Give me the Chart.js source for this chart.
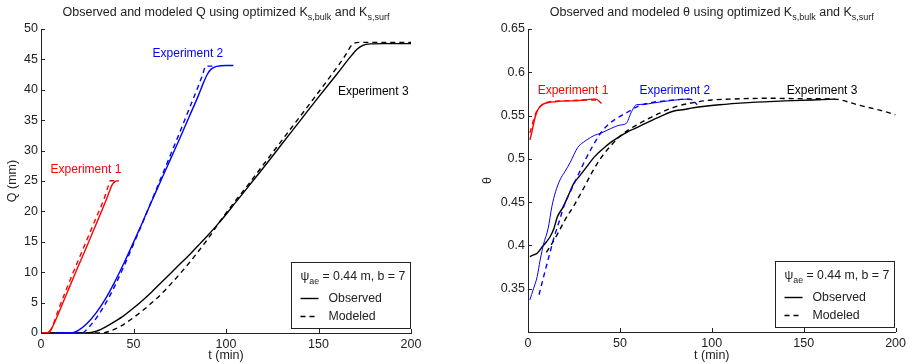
<!DOCTYPE html>
<html>
<head>
<meta charset="utf-8">
<script src="https://cdn.jsdelivr.net/npm/chart.js@4.4.1/dist/chart.umd.min.js"></script>
<style>
  body { margin: 0; background: #fff; }
  #wrap { position: relative; width: 910px; height: 364px; }
  canvas { position: absolute; top: 0; }
</style>
</head>
<body>
<div id="wrap">
  <canvas id="q-chart" width="455" height="364" style="left:0"></canvas>
  <canvas id="theta-chart" width="455" height="364" style="left:455px"></canvas>
</div>
<script>
// shared axis
const tTicks = [0, 50, 100, 150, 200];

// left panel: cumulative outflow Q (mm)
const q1ObsT = [0, 3, 4, 6, 8, 12, 16, 20, 24, 28, 32, 35, 37, 38.5, 40, 42];
const q1ObsQ = [0, 0, 0.1, 0.9, 2.2, 5.1, 8.0, 10.9, 13.7, 16.6, 19.5, 21.7, 23.3, 24.4, 24.9, 25.05];
const q1ModT = [0, 3, 4.5, 6, 8, 10, 14, 18, 22, 26, 30, 34, 36.5, 37.5, 42];
const q1ModQ = [0, 0, 0.1, 0.9, 2.6, 4.3, 7.4, 10.4, 13.3, 16.2, 19.1, 22.0, 24.3, 25.05, 25.05];

const q2ObsT = [8, 16, 20, 25, 30, 35, 40, 45, 50, 55, 60, 65, 70, 75, 80, 85, 88, 90, 92, 95, 100, 104];
const q2ObsQ = [0, 0, 0.4, 1.6, 3.4, 5.7, 8.5, 11.6, 14.9, 18.3, 21.8, 25.2, 28.6, 32.0, 35.5, 39.0, 41.3, 42.6, 43.4, 43.85, 44.0, 44.0];
const q2ModT = [8, 22, 26, 30, 35, 40, 45, 50, 55, 60, 65, 70, 75, 80, 85, 87.5, 89, 94];
const q2ModQ = [0, 0, 1.0, 2.5, 4.9, 7.8, 11.1, 14.6, 18.2, 21.9, 25.6, 29.3, 33.0, 36.8, 40.6, 42.6, 43.9, 43.9];

const q3ObsT = [0, 25, 30, 35, 40, 45, 50, 55, 60, 65, 70, 75, 80, 85, 90, 95, 100, 105, 110, 115, 120, 130, 140, 150, 160, 168, 171, 174, 178, 185, 200];
const q3ObsQ = [0, 0, 0.3, 1.0, 1.9, 2.9, 4.1, 5.4, 6.8, 8.3, 9.8, 11.3, 12.8, 14.4, 16.0, 17.7, 19.5, 21.4, 23.3, 25.2, 27.1, 31.0, 34.9, 38.8, 42.6, 45.7, 46.7, 47.3, 47.55, 47.6, 47.6];
const q3ModT = [0, 33, 38, 43, 48, 55, 60, 65, 70, 75, 80, 85, 90, 95, 100, 105, 110, 115, 120, 130, 140, 150, 160, 165, 168, 172, 200];
const q3ModQ = [0, 0, 0.4, 1.1, 2.1, 3.7, 5.0, 6.4, 8.0, 9.7, 11.5, 13.4, 15.4, 17.6, 19.7, 21.7, 23.6, 25.6, 27.6, 31.6, 35.6, 39.6, 43.7, 45.9, 47.4, 47.8, 47.8];

// right panel: water content theta
const th1ObsT = [1, 2, 3, 4, 5, 6, 8, 11, 15, 20, 25, 30, 35, 37, 40];
const th1ObsV = [0.522, 0.530, 0.540, 0.549, 0.555, 0.559, 0.563, 0.565, 0.566, 0.567, 0.567, 0.568, 0.569, 0.569, 0.564];
const th1ModT = [1, 2, 3, 5, 8, 12, 20, 30, 37];
const th1ModV = [0.530, 0.537, 0.545, 0.556, 0.563, 0.566, 0.567, 0.568, 0.568];

const th2ObsT = [1, 3, 5, 6.6, 8.4, 11, 13, 15, 17.5, 20, 23, 27, 30, 32, 36, 40, 45, 50, 53.5, 56, 59, 63, 68, 73, 78, 83, 87, 89.5];
const th2ObsV = [0.337, 0.350, 0.364, 0.383, 0.401, 0.420, 0.445, 0.462, 0.476, 0.485, 0.496, 0.513, 0.519, 0.522, 0.527, 0.530, 0.535, 0.539, 0.541, 0.553, 0.5625, 0.563, 0.5645, 0.566, 0.5675, 0.5685, 0.569, 0.568];
const th2ModT = [6, 9, 12, 14, 17, 20, 23, 27, 31, 35, 40, 45, 50, 55, 60, 65, 70, 75, 80, 85, 88, 90, 92];
const th2ModV = [0.343, 0.368, 0.392, 0.408, 0.428, 0.448, 0.462, 0.480, 0.498, 0.514, 0.531, 0.542, 0.549, 0.555, 0.561, 0.564, 0.566, 0.567, 0.568, 0.569, 0.569, 0.567, 0.5625];

const th3ObsT = [1, 3, 5, 8, 10, 12, 14, 16, 19, 22, 25, 28, 32, 36, 41, 45, 50, 54, 58, 63, 68, 73, 79, 85, 90, 104, 120, 140, 155, 167];
const th3ObsV = [0.387, 0.389, 0.391, 0.399, 0.404, 0.410, 0.419, 0.433, 0.444, 0.458, 0.472, 0.480, 0.491, 0.502, 0.512, 0.519, 0.526, 0.531, 0.535, 0.540, 0.545, 0.550, 0.555, 0.557, 0.559, 0.5625, 0.565, 0.567, 0.568, 0.569];
const th3ModT = [10, 13, 16, 20, 25, 30, 35, 40, 45, 50, 55, 60, 65, 70, 75, 80, 90, 100, 110, 130, 150, 167, 180, 190, 200];
const th3ModV = [0.392, 0.402, 0.413, 0.429, 0.446, 0.465, 0.485, 0.502, 0.515, 0.526, 0.534, 0.540, 0.546, 0.551, 0.556, 0.560, 0.565, 0.568, 0.569, 0.570, 0.5695, 0.569, 0.562, 0.557, 0.551];

const expNames = ['Experiment 1', 'Experiment 2', 'Experiment 3'];
const expColors = ['#ff0000', '#0000ff', '#000000'];

const FONT = '"Liberation Sans", Arial, Helvetica, sans-serif';
const INK = '#222';

function pts(xs, ys) { return xs.map((x, i) => ({ x, y: ys[i] })); }

function line(xs, ys, color, dashed, width) {
    return {
        data: pts(xs, ys),
        borderColor: color,
        borderWidth: width || 1.4,
        borderDash: dashed ? [5, 4] : [],
        pointRadius: 0,
        fill: false,
        cubicInterpolationMode: 'monotone'
    };
}

// text with subscripts, parts = [[text, isSub], ...]
function richWidth(ctx, parts, size) {
    let w = 0;
    parts.forEach(([s, sub]) => {
        ctx.font = (sub ? size * 0.72 : size) + 'px ' + FONT;
        w += ctx.measureText(s).width;
    });
    return w;
}
function drawRich(ctx, parts, x, y, size) {
    ctx.textAlign = 'left';
    ctx.textBaseline = 'alphabetic';
    parts.forEach(([s, sub]) => {
        ctx.font = (sub ? size * 0.72 : size) + 'px ' + FONT;
        ctx.fillText(s, x, sub ? y + 3.5 : y);
        x += ctx.measureText(s).width;
    });
}

const decorPlugin = {
    id: 'decor',
    afterDraw(chart, args, opts) {
        const { ctx, chartArea: a, scales: { x, y } } = chart;
        ctx.save();
        // inward tick marks
        ctx.strokeStyle = INK;
        ctx.lineWidth = 1;
        x.ticks.forEach(t => {
            const px = Math.round(x.getPixelForValue(t.value)) + 0.5;
            ctx.beginPath(); ctx.moveTo(px, a.bottom); ctx.lineTo(px, a.bottom - 4); ctx.stroke();
        });
        y.ticks.forEach(t => {
            const py = Math.round(y.getPixelForValue(t.value)) + 0.5;
            ctx.beginPath(); ctx.moveTo(a.left, py); ctx.lineTo(a.left + 4, py); ctx.stroke();
        });

        ctx.fillStyle = INK;
        // title
        const tw = richWidth(ctx, opts.title, 12.5);
        drawRich(ctx, opts.title, (a.left + a.right) / 2 - tw / 2, 16, 12.5);

        // axis titles
        ctx.font = '12.5px ' + FONT;
        ctx.textAlign = 'center';
        ctx.textBaseline = 'middle';
        ctx.fillText('t (min)', (a.left + a.right) / 2, 355.5);
        ctx.save();
        ctx.translate(opts.yTitleX, (a.top + a.bottom) / 2);
        ctx.rotate(-Math.PI / 2);
        ctx.fillText(opts.yTitle, 0, 0);
        ctx.restore();

        // experiment labels
        ctx.font = '12px ' + FONT;
        opts.labels.forEach((lb, i) => {
            ctx.fillStyle = expColors[i];
            ctx.fillText(expNames[i], x.getPixelForValue(lb[0]), y.getPixelForValue(lb[1]));
        });

        // legend box
        const bw = 119, bh = 66;
        const bx = Math.round(a.right - 1.5 - bw) + 0.5, by = Math.round(a.bottom - 5.5 - bh) + 0.5;
        ctx.fillStyle = '#fff';
        ctx.fillRect(bx, by, bw, bh);
        ctx.strokeStyle = INK;
        ctx.strokeRect(bx, by, bw, bh);
        ctx.fillStyle = INK;
        drawRich(ctx, [['\u03c8', false], ['ae', true], [' = 0.44 m, b = 7', false]], bx + 9, by + 17.5, 12.3);
        ctx.font = '12.3px ' + FONT;
        ctx.textAlign = 'left';
        ctx.textBaseline = 'middle';
        ctx.lineWidth = 1.4;
        ctx.strokeStyle = '#000';
        [['Observed', [], 36], ['Modeled', [5, 4], 54]].forEach(([txt, dash, dy]) => {
            ctx.setLineDash(dash);
            ctx.beginPath(); ctx.moveTo(bx + 9, by + dy); ctx.lineTo(bx + 27, by + dy); ctx.stroke();
            ctx.fillText(txt, bx + 37, by + dy);
        });
        ctx.restore();
    }
};

function makePanel(id, datasets, yMin, yMax, yStep, yWidth, padRight, xHeight, yFmt, decor) {
    return new Chart(document.getElementById(id), {
        type: 'line',
        data: { datasets },
        options: {
            responsive: false,
            animation: false,
            layout: { padding: { top: 29, right: padRight, bottom: 0, left: 0 } },
            plugins: { legend: { display: false }, tooltip: { enabled: false }, decor },
            scales: {
                x: {
                    type: 'linear', min: 0, max: 200,
                    afterBuildTicks: s => { s.ticks = tTicks.map(v => ({ value: v })); },
                    afterFit: s => { s.height = xHeight; },
                    ticks: { autoSkip: false, maxRotation: 0, padding: 4, color: INK, font: { family: FONT, size: 12.5 } },
                    grid: { display: false, drawTicks: false },
                    border: { display: true, color: INK, width: 1 }
                },
                y: {
                    type: 'linear', min: yMin, max: yMax,
                    ticks: { stepSize: yStep, autoSkip: false, padding: 3, color: INK, font: { family: FONT, size: 12.5 }, callback: yFmt },
                    afterFit: s => { s.width = yWidth; },
                    grid: { display: false, drawTicks: false },
                    border: { display: true, color: INK, width: 1 }
                }
            }
        },
        plugins: [decorPlugin]
    });
}

makePanel('q-chart', [
    line(q1ObsT, q1ObsQ, expColors[0], false), line(q1ModT, q1ModQ, expColors[0], true),
    line(q2ObsT, q2ObsQ, expColors[1], false), line(q2ModT, q2ModQ, expColors[1], true),
    line(q3ObsT, q3ObsQ, expColors[2], false), line(q3ModT, q3ModQ, expColors[2], true)
], 0, 50, 5, 41, 44, 31, v => String(v), {
    title: [['Observed and modeled Q using optimized K', false], ['s,bulk', true], [' and K', false], ['s,surf', true]],
    yTitle: 'Q (mm)', yTitleX: 13,
    labels: [[24.3, 26.8], [79.4, 46.0], [179.6, 39.7]]
});

makePanel('theta-chart', [
    line(th1ObsT, th1ObsV, expColors[0], false), line(th1ModT, th1ModV, expColors[0], true),
    line(th2ObsT, th2ObsV, expColors[1], false, 1), line(th2ModT, th2ModV, expColors[1], true),
    line(th3ObsT, th3ObsV, expColors[2], false), line(th3ModT, th3ModV, expColors[2], true)
], 0.3, 0.65, 0.05, 73, 12, 32, v => (v < 0.31 ? '' : String(Math.round(v * 100) / 100)), {
    title: [['Observed and modeled \u03b8 using optimized K', false], ['s,bulk', true], [' and K', false], ['s,surf', true]],
    yTitle: '\u03b8', yTitleX: 33,
    labels: [[24.5, 0.579], [79.9, 0.579], [160, 0.579]]
});
</script>
</body>
</html>
